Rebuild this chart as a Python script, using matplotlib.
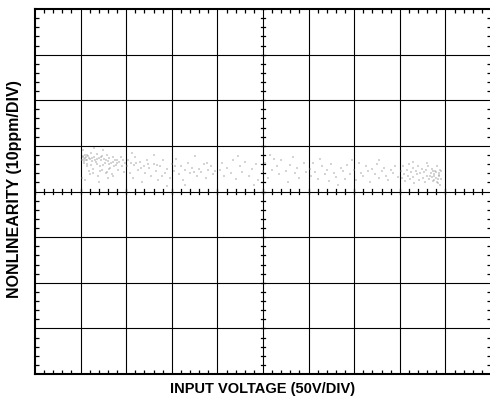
import matplotlib
matplotlib.use("Agg")
import matplotlib.pyplot as plt
import numpy as np

plt.rcParams['font.family'] = ['Liberation Sans', 'DejaVu Sans']

x_label = "INPUT VOLTAGE (50V/DIV)"
y_label = "NONLINEARITY (10ppm/DIV)"
x_divs = 10
y_divs = 8

# scatter samples (x in divisions, y in divisions from bottom)
pts_a = [(1.05,4.75),(1.08,4.62),(1.1,4.80),(1.12,4.70),(1.15,4.55),(1.17,4.78),(1.2,4.72),(1.22,4.85),
         (1.25,4.66),(1.27,4.50),(1.3,4.76),(1.32,4.70),(1.35,4.60),(1.37,4.82),(1.4,4.74),(1.42,4.45),
         (1.45,4.68),(1.47,4.77),(1.5,4.58),(1.52,4.72),(1.55,4.40),(1.57,4.80),(1.6,4.66),(1.62,4.73),
         (1.65,4.52),(1.67,4.62),(1.7,4.75),(1.72,4.35),(1.75,4.68),(1.78,4.58),(1.8,4.70),(1.83,4.48),
         (1.85,4.64),(1.88,4.76),(1.9,4.55),(1.93,4.68),(1.95,4.42),(1.98,4.62),
         (1.03,4.30),(1.1,4.25),(1.2,4.38),(1.05,4.92),(1.3,4.95),(1.5,4.90),(1.6,4.30),(1.4,4.20),
         (1.15,4.68),(1.25,4.74),(1.12,4.76),(1.08,4.72),(1.35,4.72),(1.45,4.76),(1.55,4.70),(1.62,4.60),
         (1.7,4.65),(1.8,4.62),(1.06,4.78),(1.1,4.74),(1.14,4.79),(1.18,4.73),(1.04,4.70),
         (1.07,4.66),(1.13,4.60),(1.23,4.58),(1.33,4.64),(1.43,4.55),(1.53,4.62),(1.63,4.50),
         (1.73,4.56),(1.18,4.45),(1.28,4.40),(1.38,4.35),(1.48,4.48),(1.58,4.42),(1.68,4.38)]
pts_b = [(2.02,4.55),(2.05,4.70),(2.08,4.40),(2.1,4.62),(2.15,4.30),(2.18,4.58),(2.2,4.75),(2.25,4.48),
         (2.3,4.65),(2.35,4.20),(2.38,4.55),(2.42,4.40),(2.45,4.70),(2.5,4.52),(2.55,4.35),(2.6,4.60),
         (2.65,4.45),(2.7,4.25),(2.75,4.55),(2.8,4.68),(2.85,4.40),(2.9,4.50),(2.95,4.30),(3.0,4.60),
         (3.05,4.45),(3.1,4.72),(3.15,4.38),(3.2,4.55),(3.25,4.25),(3.3,4.48),(3.35,4.62),(3.4,4.40),
         (3.45,4.52),(3.5,4.78),(3.55,4.35),(3.6,4.50),(3.65,4.42),(3.7,4.60),(3.75,4.30),(3.8,4.48),
         (3.85,4.55),(3.9,4.38),(3.95,4.45),(2.12,4.85),(2.6,4.80),(3.3,4.15),(2.9,4.12),
         (2.22,4.62),(2.32,4.52),(2.48,4.60),(2.68,4.58),(2.78,4.35),(3.08,4.55),(3.48,4.42),(3.78,4.62)]
pts_c = [(4.05,4.48),(4.1,4.62),(4.15,4.35),(4.2,4.52),(4.3,4.40),(4.35,4.70),(4.4,4.28),(4.5,4.55),
         (4.55,4.42),(4.6,4.65),(4.7,4.35),(4.75,4.50),(4.85,4.60),(4.9,4.25),(5.0,4.45),(5.05,4.62),
         (5.1,4.30),(5.15,4.80),(5.2,4.48),(5.3,4.55),(5.35,4.38),(5.4,4.68),(5.5,4.45),(5.55,4.20),
         (5.6,4.58),(5.7,4.40),(5.75,4.52),(5.8,4.30),(5.9,4.62),(5.95,4.42),(4.45,4.78),(4.8,4.15),
         (5.25,4.72),(5.65,4.75)]
pts_d = [(6.02,4.50),(6.05,4.35),(6.1,4.62),(6.15,4.42),(6.2,4.28),(6.3,4.55),(6.35,4.38),(6.4,4.48),
         (6.45,4.22),(6.5,4.60),(6.55,4.40),(6.6,4.32),(6.7,4.52),(6.75,4.45),(6.8,4.28),(6.85,4.58),
         (6.9,4.38),(7.0,4.48),(7.05,4.25),(7.1,4.62),(7.15,4.40),(7.2,4.33),(7.25,4.55),(7.3,4.45),
         (7.35,4.20),(7.4,4.50),(7.45,4.38),(7.5,4.60),(7.55,4.30),(7.6,4.45),(7.65,4.52),(7.7,4.35),
         (7.75,4.25),(7.8,4.48),(7.85,4.40),(7.9,4.55),(7.95,4.32),(6.25,4.72),(6.95,4.68),(7.55,4.70),
         (6.65,4.15)]
pts_e = [(8.02,4.45),(8.05,4.30),(8.08,4.55),(8.1,4.38),(8.12,4.22),(8.15,4.48),(8.18,4.35),(8.2,4.60),
         (8.22,4.28),(8.25,4.42),(8.28,4.52),(8.3,4.32),(8.32,4.18),(8.35,4.45),(8.38,4.38),(8.4,4.55),
         (8.42,4.25),(8.45,4.40),(8.48,4.50),(8.5,4.30),(8.52,4.42),(8.55,4.20),(8.58,4.48),(8.6,4.35),
         (8.62,4.55),(8.65,4.28),(8.68,4.40),(8.7,4.50),(8.72,4.22),(8.75,4.38),(8.78,4.45),(8.8,4.30),
         (8.82,4.55),(8.84,4.18),(8.86,4.40),(8.88,4.48),(8.9,4.28),(8.85,4.35),(8.8,4.42),(8.75,4.25),
         (8.88,4.15),(8.7,4.32),(8.9,4.45),(8.6,4.62),(8.3,4.65),
         (8.76,4.33),(8.83,4.27),(8.87,4.37),(8.81,4.20),(8.73,4.44),(8.66,4.35)]

pts = pts_a + pts_b + pts_c + pts_d + pts_e
xs = [p[0] for p in pts]
ys = [p[1] for p in pts]

fig = plt.figure(figsize=(4.9, 3.97), dpi=100)
ax = fig.add_axes([35/490, 23/397, 456/490, 365/397])
ax.set_xlim(0, x_divs)
ax.set_ylim(0, y_divs)

# grid
for i in range(1, x_divs):
    ax.axvline(i, color='black', lw=0.8, zorder=1)
for j in range(1, y_divs):
    ax.axhline(j, color='black', lw=0.8, zorder=1)

# center cross minor ticks
minor_x = np.arange(0, x_divs + 0.001, 0.2)
minor_y = np.arange(0, y_divs + 0.001, 0.2)
tick_dx = 0.045
tick_dy = 0.045
for mx in minor_x:
    ax.plot([mx, mx], [y_divs/2 - tick_dy, y_divs/2 + tick_dy], color='black', lw=0.9, zorder=1)
for my in minor_y:
    ax.plot([x_divs/2 - tick_dx, x_divs/2 + tick_dx], [my, my], color='black', lw=0.9, zorder=1)

ax.scatter(xs, ys, s=4.5, marker='s', color='#8a8a8a', alpha=0.36, linewidths=0, zorder=2)

# border ticks
ax.set_xticks(np.arange(0, x_divs + 0.001, 1))
ax.set_yticks(np.arange(0, y_divs + 0.001, 1))
ax.set_xticks(minor_x, minor=True)
ax.set_yticks(minor_y, minor=True)
ax.tick_params(which='both', direction='in', top=True, right=True, labelbottom=False, labelleft=False)
ax.tick_params(which='major', length=0)
ax.tick_params(which='minor', length=3, width=0.9)
for s in ax.spines.values():
    s.set_linewidth(1.5)

fig.text((35 + 491) / 2 / 490, 1 - 388.5/397, x_label, ha='center', va='center',
         fontsize=10.5, fontweight='bold')
fig.text(14.5/490, 1 - 189/397, y_label, ha='center', va='center', rotation=90,
         fontsize=11.5, fontweight='bold')

fig.savefig("out.png", dpi=100)
